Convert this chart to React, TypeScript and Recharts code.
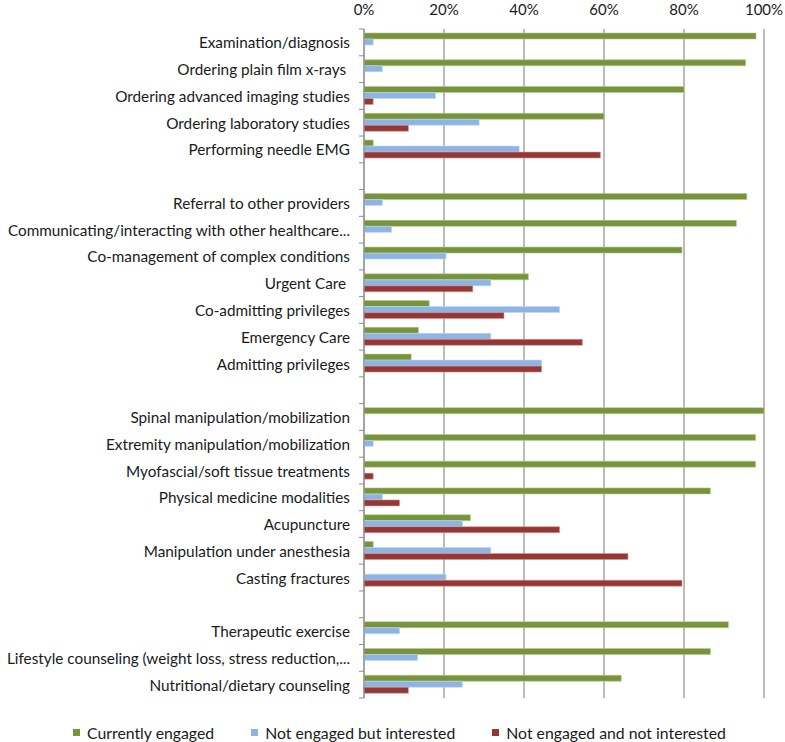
import React from 'react';
import { BarChart, Bar, XAxis, YAxis, CartesianGrid, Legend } from 'recharts';

const categories: string[] = [
  'Examination/diagnosis',
  'Ordering plain film x-rays ',
  'Ordering advanced imaging studies',
  'Ordering laboratory studies',
  'Performing needle EMG',
  '',
  'Referral to other providers',
  'Communicating/interacting with other healthcare...',
  'Co-management of complex conditions',
  'Urgent Care ',
  'Co-admitting privileges',
  'Emergency Care',
  'Admitting privileges',
  '',
  'Spinal manipulation/mobilization',
  'Extremity manipulation/mobilization',
  'Myofascial/soft tissue treatments',
  'Physical medicine modalities',
  'Acupuncture',
  'Manipulation under anesthesia',
  'Casting fractures',
  '',
  'Therapeutic exercise',
  'Lifestyle counseling (weight loss, stress reduction,...',
  'Nutritional/dietary counseling',
];

const currentlyEngaged: (number | null)[] = [
  98, 95.4, 80, 60, 2.3, null,
  95.7, 93.1, 79.5, 41.1, 16.3, 13.6, 11.8, null,
  100, 97.9, 97.9, 86.6, 26.6, 2.3, 0, null,
  91.1, 86.6, 64.3,
];

const notEngagedInterested: (number | null)[] = [
  2.3, 4.6, 17.9, 28.8, 38.8, null,
  4.6, 6.9, 20.5, 31.7, 48.9, 31.7, 44.4, null,
  0, 2.3, 0, 4.6, 24.6, 31.7, 20.5, null,
  8.9, 13.4, 24.6,
];

const notEngagedNotInterested: (number | null)[] = [
  0, 0, 2.3, 11.1, 59.1, null,
  0, 0, 0, 27.2, 35, 54.6, 44.4, null,
  0, 0, 2.3, 8.9, 48.9, 66, 79.5, null,
  0, 0, 11.1,
];

const xTicks: number[] = [0, 20, 40, 60, 80, 100];

const seriesNames = ['Currently engaged', 'Not engaged but interested', 'Not engaged and not interested'];
const seriesColors = ['#77933C', '#8EB4E3', '#953735'];
const seriesStrokes = ['#B5CB8A', '#C2D7F0', '#D09A98'];

const data = categories.map((name, i) => ({
  name,
  a: currentlyEngaged[i],
  b: notEngagedInterested[i],
  c: notEngagedNotInterested[i],
}));

const FONT = 'Lato, "Liberation Sans", sans-serif';
const TEXT_COLOR = '#1a1a1a';
const PLOT_TOP = 29;
const PLOT_BOTTOM = 698;
const ROW_H = (PLOT_BOTTOM - PLOT_TOP) / categories.length;

const YTick = (props: any) => {
  const { x, y, payload, index } = props;
  const axisX = x + 14;
  return (
    <g>
      <line x1={axisX - 5} x2={axisX} y1={y - ROW_H / 2} y2={y - ROW_H / 2} stroke="#8c8c8c" strokeWidth={1} />
      {index === categories.length - 1 && (
        <line x1={axisX - 5} x2={axisX} y1={y + ROW_H / 2} y2={y + ROW_H / 2} stroke="#8c8c8c" strokeWidth={1} />
      )}
      <text
        x={x}
        y={y}
        textAnchor="end"
        dominantBaseline="central"
        fontFamily={FONT}
        fontSize={15.3}
        fill={TEXT_COLOR}
        style={{ whiteSpace: 'pre' }}
      >
        {payload.value}
      </text>
    </g>
  );
};

const XTick = (props: any) => {
  const { x, payload } = props;
  return (
    <text x={x} y={9} textAnchor="middle" dominantBaseline="central" fontFamily={FONT} fontSize={15} fill={TEXT_COLOR}>
      {`${payload.value}%`}
    </text>
  );
};

const LegendContent = () => (
  <div
    style={{
      boxSizing: 'border-box',
      height: 44,
      paddingTop: 25,
      paddingLeft: 73,
      display: 'flex',
      alignItems: 'center',
      fontFamily: FONT,
      fontSize: 15.8,
      color: TEXT_COLOR,
      lineHeight: '16px',
    }}
  >
    {seriesNames.map((n, i) => (
      <div key={n} style={{ display: 'flex', alignItems: 'center', marginRight: 37 }}>
        <span style={{ display: 'inline-block', width: 7, height: 7, background: seriesColors[i], marginRight: 7 }} />
        <span style={{ whiteSpace: 'nowrap' }}>{n}</span>
      </div>
    ))}
  </div>
);

export default function App() {
  return (
    <div style={{ position: 'absolute', left: 0, top: 0, width: 785, height: 742, background: '#fff' }}>
      <BarChart
        width={785}
        height={742}
        data={data}
        layout="vertical"
        margin={{ top: 0, right: 21, bottom: 0, left: 0 }}
        barSize={6}
        barGap={0}
      >
        <CartesianGrid horizontal={false} vertical={true} stroke="#a6a6a6" strokeWidth={1.5} />
        <XAxis
          type="number"
          orientation="top"
          domain={[0, 100]}
          ticks={xTicks}
          height={PLOT_TOP}
          axisLine={false}
          tickLine={false}
          tick={<XTick />}
          interval={0}
        />
        <YAxis
          type="category"
          dataKey="name"
          width={364}
          axisLine={{ stroke: '#8c8c8c', strokeWidth: 1 }}
          tickLine={false}
          tickSize={0}
          tickMargin={14}
          tick={<YTick />}
          interval={0}
        />
        <Legend verticalAlign="bottom" height={44} content={<LegendContent />} />
        {['a', 'b', 'c'].map((k, i) => (
          <Bar
            key={k}
            dataKey={k}
            name={seriesNames[i]}
            fill={seriesColors[i]}
            stroke={seriesStrokes[i]}
            strokeWidth={0.6}
            isAnimationActive={false}
          />
        ))}
      </BarChart>
    </div>
  );
}
